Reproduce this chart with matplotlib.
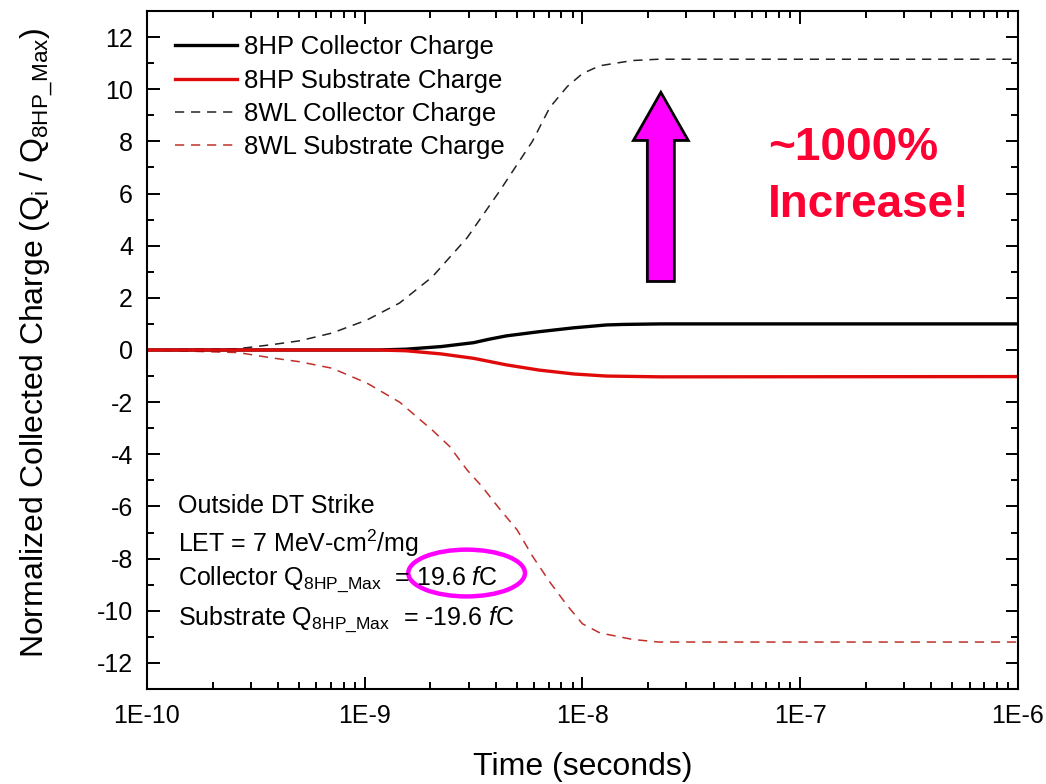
import numpy as np
import matplotlib
matplotlib.use('Agg')
import matplotlib.pyplot as plt
from matplotlib.patches import FancyArrow, Ellipse
from matplotlib.ticker import FixedLocator, LogLocator, NullFormatter, MultipleLocator

plt.rcParams['font.family'] = ['Liberation Sans', 'DejaVu Sans']
plt.rcParams['mathtext.fontset'] = 'custom'
plt.rcParams['mathtext.rm'] = 'Liberation Sans'
plt.rcParams['mathtext.it'] = 'Liberation Sans:italic'
plt.rcParams['axes.unicode_minus'] = False

# values (time in seconds, charge normalized to Q_8HP_Max)
wlCollT = [1e-10, 10**-9.58, 10**-9.43, 10**-9.30, 10**-9.15, 10**-8.99, 10**-8.84, 10**-8.69,
           10**-8.53, 10**-8.38, 10**-8.23, 10**-8.15, 10**-8.07, 10**-8.0, 10**-7.92, 10**-7.77,
           10**-7.65, 1e-6]
wlCollQ = [0.0, 0.05, 0.2, 0.35, 0.65, 1.15, 1.8, 2.8, 4.3, 6.1, 8.0, 9.3, 10.1, 10.6, 10.9, 11.1,
           11.15, 11.15]

wlSubT = [1e-10, 10**-9.58, 10**-9.43, 10**-9.30, 10**-9.15, 10**-8.99, 10**-8.84, 10**-8.69,
          10**-8.61, 10**-8.53, 10**-8.46, 10**-8.38, 10**-8.30, 10**-8.23, 10**-8.15, 10**-8.07,
          10**-8.0, 10**-7.92, 10**-7.77, 10**-7.65, 1e-6]
wlSubQ = [0.0, -0.1, -0.3, -0.45, -0.7, -1.27, -2.0, -3.07, -3.7, -4.6, -5.25, -6.1, -6.9, -7.9,
          -8.9, -9.8, -10.5, -10.85, -11.1, -11.2, -11.2]

hpCollT = [1e-10, 10**-8.94, 10**-8.81, 10**-8.65, 10**-8.50, 10**-8.43, 10**-8.35, 10**-8.20,
           10**-8.04, 10**-7.89, 10**-7.81, 10**-7.64, 1e-6]
hpCollQ = [0.0, 0.0, 0.03, 0.13, 0.28, 0.41, 0.54, 0.70, 0.85, 0.96, 0.98, 1.0, 1.0]

hpSubT = [1e-10, 10**-8.94, 10**-8.81, 10**-8.65, 10**-8.50, 10**-8.35, 10**-8.20, 10**-8.04,
          10**-7.89, 10**-7.64, 1e-6]
hpSubQ = [0.0, 0.0, -0.03, -0.15, -0.32, -0.57, -0.77, -0.92, -1.0, -1.03, -1.02]

xTicks = [1e-10, 1e-9, 1e-8, 1e-7, 1e-6]
xTickLabels = ['1E-10', '1E-9', '1E-8', '1E-7', '1E-6']
yTicks = list(range(-12, 13, 2))

fig = plt.figure(figsize=(10.46, 7.84), dpi=100)
ax = fig.add_axes([0.1405, 0.1212, 0.8327, 0.8648])

ax.plot(wlCollT, wlCollQ, color='#222222', lw=1.1, dashes=(6, 4.5), label='8WL Collector Charge')
ax.plot(wlSubT, wlSubQ, color='#c0302b', lw=1.1, dashes=(6, 4.5), label='8WL Substrate Charge')
ax.plot(hpCollT, hpCollQ, color='black', lw=2.4, label='8HP Collector Charge')
ax.plot(hpSubT, hpSubQ, color='#e00a0a', lw=2.4, label='8HP Substrate Charge')

ax.set_xscale('log')
ax.set_xlim(1e-10, 1e-6)
ax.set_ylim(-13, 13)
ax.xaxis.set_major_locator(FixedLocator(xTicks))
ax.set_xticklabels(xTickLabels)
ax.xaxis.set_minor_locator(LogLocator(base=10, subs=np.arange(2, 10)))
ax.xaxis.set_minor_formatter(NullFormatter())
ax.set_yticks(yTicks)
ax.yaxis.set_minor_locator(MultipleLocator(1))

ax.tick_params(which='both', direction='in', top=True, right=True, width=1.4)
ax.tick_params(which='major', length=9, labelsize=18)
ax.tick_params(axis='x', which='major', pad=11)
ax.tick_params(axis='y', which='major', pad=10)
ax.tick_params(which='minor', length=5)
for s in ax.spines.values():
    s.set_linewidth(1.5)

ax.set_xlabel('Time (seconds)', fontsize=23)
ax.set_ylabel(r'Normalized Collected Charge (Q$_\mathrm{i}$ / Q$_\mathrm{8HP\_Max}$)', fontsize=23)
ax.xaxis.set_label_coords(0.5, -0.093)
ax.yaxis.set_label_coords(-0.106, 0.51)

# legend order as in the picture: solid lines first
handles, labels = ax.get_legend_handles_labels()
order = [2, 3, 0, 1]
ax.legend([handles[i] for i in order], [labels[i] for i in order],
          loc='upper left', bbox_to_anchor=(0.032, 0.964), frameon=False, fontsize=18.5,
          handlelength=2.4, handletextpad=0.3, labelspacing=0.36, borderpad=0, borderaxespad=0)

infoLines = ['Outside DT Strike',
             r'LET = 7 MeV-cm$^\mathrm{2}$/mg',
             r'Collector Q$_\mathrm{8HP\_Max}$  = 19.6 $\mathit{f}$C',
             r'Substrate Q$_\mathrm{8HP\_Max}$  = -19.6 $\mathit{f}$C']
infoY = [0.2596, 0.202, 0.1534, 0.0944]
for txt, yy in zip(infoLines, infoY):
    ax.text(0.0356, yy, txt, transform=ax.transAxes, fontsize=18, va='baseline', ha='left')

ax.add_patch(Ellipse((0.367, 0.171), 0.134, 0.069, transform=ax.transAxes, fill=False,
                     edgecolor='#ff00ff', lw=3.2, clip_on=False))

ax.add_patch(FancyArrow(0.590, 0.601, 0, 0.279, width=0.031, head_width=0.063,
                        head_length=0.071, length_includes_head=True, transform=ax.transAxes,
                        facecolor='#ff00ff', edgecolor='black', lw=2))

ax.text(0.713, 0.780, '~1000%', transform=ax.transAxes, fontsize=33,
        fontweight='bold', color='#ff0033', ha='left', va='baseline')
ax.text(0.713, 0.696, 'Increase!', transform=ax.transAxes, fontsize=33,
        fontweight='bold', color='#ff0033', ha='left', va='baseline')

fig.savefig('out.png', dpi=100)
